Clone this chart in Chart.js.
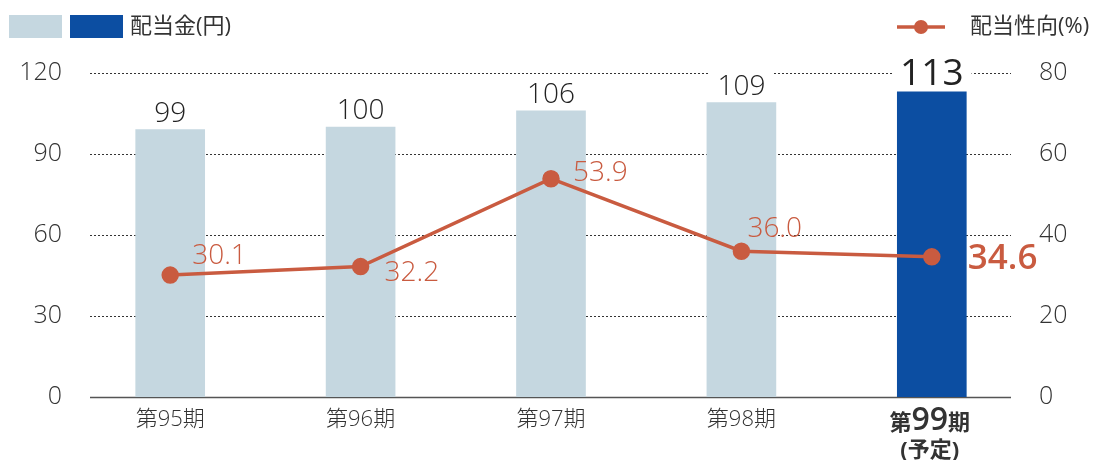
<!DOCTYPE html>
<html>
<head>
<meta charset="utf-8">
<script src="https://cdn.jsdelivr.net/npm/chart.js@4/dist/chart.umd.min.js"></script>
<style>
  body { margin: 0; background: #fff; }
  #wrap { width: 1099px; height: 460px; }
</style>
</head>
<body>
<div id="wrap"><canvas id="myChart" width="1099" height="460"></canvas></div>
<script>
var periods = ['第95期', '第96期', '第97期', '第98期', '第99期'];
var dividend = [99, 100, 106, 109, 113];
var payoutRatio = [30.1, 32.2, 53.9, 36.0, 34.6];
var leftTicks = [0, 30, 60, 90, 120];
var rightTicks = [0, 20, 40, 60, 80];

var lightBar = '#c5d7e0';
var darkBar = '#0c4ea2';
var lineColor = '#c95b40';
var jp = '"Open Sans", "Noto Sans CJK JP", sans-serif';

// dotted grid lines under the bars, broken by the bar value labels
var gridPlugin = {
  id: 'dotGrid',
  beforeDatasetsDraw: function (chart) {
    var ctx = chart.ctx;
    var y = chart.scales.y;
    var x0 = 90, x1 = 1011;
    ctx.save();
    leftTicks.forEach(function (t) {
      var py = Math.round(y.getPixelForValue(t)) + 0.5;
      ctx.beginPath();
      if (t === 0) {
        ctx.setLineDash([]);
        ctx.strokeStyle = '#555';
        ctx.lineWidth = 1.5;
      } else {
        ctx.setLineDash([2, 2]);
        ctx.strokeStyle = '#333';
        ctx.lineWidth = 1;
      }
      ctx.moveTo(x0, py);
      ctx.lineTo(x1, py);
      ctx.stroke();
    });
    ctx.restore();
  },
  afterDatasetsDraw: function (chart) {
    var ctx = chart.ctx;
    ctx.save();
    // bar value labels
    var bars = chart.getDatasetMeta(1).data;
    bars.forEach(function (b, i) {
      var last = i === dividend.length - 1;
      ctx.font = last ? '500 37px ' + jp : '300 28px ' + jp;
      ctx.textAlign = 'center';
      ctx.textBaseline = 'alphabetic';
      var txt = String(dividend[i]);
      var w = ctx.measureText(txt).width;
      var by = b.y - (last ? 7 : 8);
      ctx.fillStyle = '#fff';
      ctx.fillRect(b.x - w / 2 - 8, by - (last ? 30 : 24), w + 16, last ? 32 : 26);
      ctx.fillStyle = '#222';
      ctx.fillText(txt, b.x, by);
    });
    // line value labels
    var pts = chart.getDatasetMeta(0).data;
    var offs = [[22, -19], [24, 6], [22, -6], [6, -22], [36, 2]];
    pts.forEach(function (p, i) {
      var last = i === payoutRatio.length - 1;
      ctx.font = last ? '600 35px ' + jp : '300 28px ' + jp;
      ctx.textAlign = 'left';
      ctx.textBaseline = 'middle';
      ctx.fillStyle = lineColor;
      ctx.fillText(payoutRatio[i].toFixed(1), p.x + offs[i][0], p.y + offs[i][1]);
    });
    // last category label: bold with larger number, plus (予定)
    var xs = chart.scales.x;
    var cx = xs.getPixelForValue(4) - 2;
    ctx.fillStyle = '#333';
    ctx.textBaseline = 'alphabetic';
    ctx.textAlign = 'left';
    var parts = [['第', 'bold 22px ' + jp], ['99', '600 32px ' + jp], ['期', 'bold 22px ' + jp]];
    var tw = 0;
    parts.forEach(function (pt) { ctx.font = pt[1]; tw += ctx.measureText(pt[0]).width; });
    var px = cx - tw / 2;
    parts.forEach(function (pt) {
      ctx.font = pt[1];
      ctx.fillText(pt[0], px, 430);
      px += ctx.measureText(pt[0]).width;
    });
    ctx.font = 'bold 22px ' + jp;
    ctx.textAlign = 'center';
    ctx.fillText('(予定)', cx, 457);
    // legend
    ctx.fillStyle = lightBar;
    ctx.fillRect(9, 15, 53, 23);
    ctx.fillStyle = darkBar;
    ctx.fillRect(70, 15, 53, 23);
    ctx.fillStyle = '#333';
    ctx.font = '22px ' + jp;
    ctx.textAlign = 'left';
    ctx.textBaseline = 'middle';
    ctx.fillText('配当金(円)', 130, 27);
    ctx.strokeStyle = lineColor;
    ctx.lineWidth = 3.5;
    ctx.beginPath();
    ctx.moveTo(897, 27);
    ctx.lineTo(945, 27);
    ctx.stroke();
    ctx.fillStyle = lineColor;
    ctx.beginPath();
    ctx.arc(921, 27, 7, 0, Math.PI * 2);
    ctx.fill();
    ctx.fillStyle = '#333';
    ctx.fillText('配当性向(%)', 970, 27);
    ctx.restore();
  }
};

var ctx = document.getElementById('myChart').getContext('2d');
var myChart = new Chart(ctx, {
  data: {
    labels: periods,
    datasets: [
      {
        type: 'line',
        data: payoutRatio,
        yAxisID: 'y2',
        borderColor: lineColor,
        backgroundColor: lineColor,
        borderWidth: 3.5,
        pointRadius: 7,
        pointHoverRadius: 7,
        tension: 0,
        order: 0
      },
      {
        type: 'bar',
        data: dividend,
        yAxisID: 'y',
        backgroundColor: dividend.map(function (v, i) { return i === dividend.length - 1 ? darkBar : lightBar; }),
        barThickness: 69,
        order: 1
      }
    ]
  },
  options: {
    responsive: false,
    animation: false,
    layout: { padding: { top: 73, left: 0, right: 0, bottom: 0 } },
    plugins: { legend: { display: false }, tooltip: { enabled: false } },
    scales: {
      x: {
        grid: { display: false, drawTicks: false },
        border: { display: false },
        ticks: {
          padding: 10,
          color: '#333',
          font: { family: jp, size: 22, weight: '300' },
          callback: function (v, i) { return i === periods.length - 1 ? '' : periods[i]; }
        },
        afterFit: function (s) { s.height = 63; }
      },
      y: {
        position: 'left',
        min: 0,
        max: 120,
        afterBuildTicks: function (s) { s.ticks = leftTicks.map(function (v) { return { value: v }; }); },
        grid: { display: false, drawTicks: false },
        border: { display: false },
        ticks: { padding: 13, color: '#333', font: { family: jp, size: 25, weight: '300' } },
        afterFit: function (s) { s.width = 75; }
      },
      y2: {
        position: 'right',
        min: 0,
        max: 80,
        afterBuildTicks: function (s) { s.ticks = rightTicks.map(function (v) { return { value: v }; }); },
        grid: { display: false, drawTicks: false },
        border: { display: false },
        ticks: { padding: 12, color: '#333', font: { family: jp, size: 25, weight: '300' } },
        afterFit: function (s) { s.width = 72; }
      }
    }
  },
  plugins: [gridPlugin]
});
</script>
</body>
</html>
